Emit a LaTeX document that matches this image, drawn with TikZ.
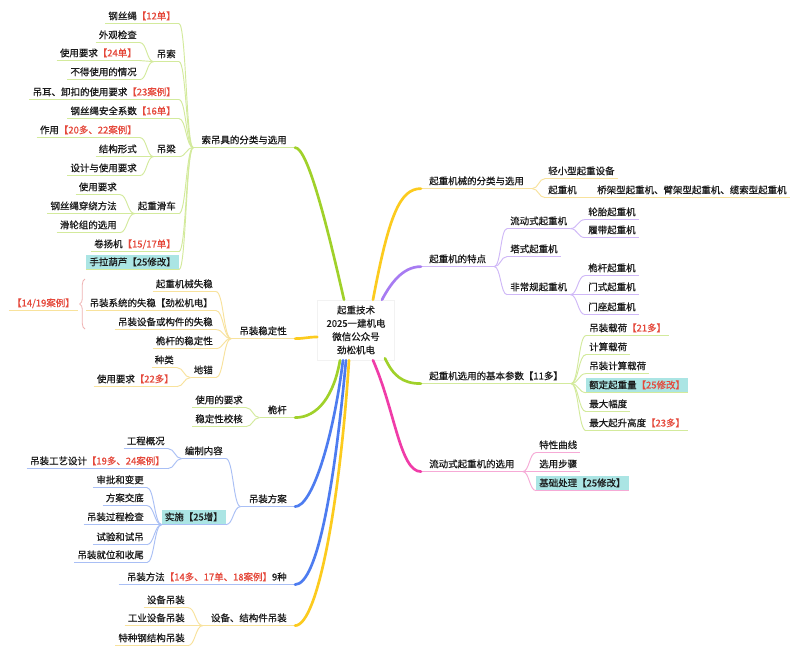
\documentclass[tikz,border=0pt]{standalone}
\usepackage{fontspec}
\setmainfont{Noto Sans CJK SC}[FakeBold=0.6]
\usepackage{xcolor}
\usepackage{tikz}
\usetikzlibrary{calc,decorations.pathreplacing}
\definecolor{Ink}{HTML}{1A1A1A}
\definecolor{Hot}{HTML}{E5483B}
\definecolor{Mark}{HTML}{ABE5E4}
\definecolor{Lime}{HTML}{A0D12A}
\definecolor{LimeL}{HTML}{D3EA9C}
\definecolor{Gold}{HTML}{FCCB1E}
\definecolor{GoldL}{HTML}{F8E29C}
\definecolor{Blue}{HTML}{4D7CF0}
\definecolor{BlueL}{HTML}{A9BFF5}
\definecolor{Vio}{HTML}{A77BF2}
\definecolor{VioL}{HTML}{CFB8F7}
\definecolor{Rose}{HTML}{F03CA8}
\definecolor{RoseL}{HTML}{F6AAD6}
\definecolor{Brace}{HTML}{EFB3B3}
\newcommand{\rd}[1]{\textcolor{Hot}{#1}}

\tikzset{
  txt/.style={font=\fontsize{7.1pt}{9pt}\selectfont, text=Ink, inner xsep=2.25pt, inner ysep=1.9pt, text height=6.2pt, text depth=1pt},
  mainnode/.style={txt, inner xsep=6pt},
  markbox/.style={fill=Mark},
  rootnode/.style={font=\fontsize{7.1pt}{10pt}\selectfont, text=Ink, align=center, fill=white, draw=black!5, minimum width=57.75pt, minimum height=45pt},
  ul/.style={line width=0.7pt},
  link/.style={line width=0.7pt, to path={.. controls ($(\tikztostart)!0.5!(\tikztotarget|-\tikztostart)$) and ($(\tikztotarget)!0.5!(\tikztostart|-\tikztotarget)$) .. (\tikztotarget)}},
  branch/.style={line width=2pt, line cap=round}
}

\begin{document}
\begin{tikzpicture}[x=0.75pt, y=-0.75pt]
  \fill[white] (0,0) rectangle (800,654);
  \useasboundingbox (0,0) rectangle (800,654);

  \node[rootnode] (root) at (356,330) {起重技术\\2025一建机电\\微信公众号\\劲松机电};

  % left side
  \node[mainnode, anchor=east] (sdj) at (295,140) {索吊具的分类与选用};
  \node[mainnode, anchor=east] (dzwdx) at (295,331) {吊装稳定性};
  \node[mainnode, anchor=east] (wg) at (295,410) {桅杆};
  \node[mainnode, anchor=east] (dzfa) at (295,499) {吊装方案};
  \node[mainnode, anchor=east] (dzff) at (295,577) {吊装方法\rd{【14多、17单、18案例】}9种};
  \node[mainnode, anchor=east] (sbjg) at (295,618) {设备、结构件吊装};

  \node[txt, anchor=east] (gss) at (179,16) {钢丝绳\rd{【12单】}};
  \node[txt, anchor=east] (dsu) at (179,54) {吊索};
  \node[txt, anchor=east] (derk) at (179,92) {吊耳、卸扣的使用要求\rd{【23案例】}};
  \node[txt, anchor=east] (gssaq) at (179,111) {钢丝绳安全系数\rd{【16单】}};
  \node[txt, anchor=east] (dliang) at (179,149) {吊梁};
  \node[txt, anchor=east] (qzhc) at (179,206) {起重滑车};
  \node[txt, anchor=east] (jyj) at (179,244) {卷扬机\rd{【15/17单】}};
  \node[txt, markbox, anchor=east] (slhl) at (179,262) {手拉葫芦【25修改】};

  \node[txt, anchor=east] (wgjc) at (140,35) {外观检查};
  \node[txt, anchor=east] (syyq1) at (140,53) {使用要求\rd{【24单】}};
  \node[txt, anchor=east] (bdsy) at (140,72) {不得使用的情况};
  \node[txt, anchor=east] (zuoyong) at (140,130) {作用\rd{【20多、22案例】}};
  \node[txt, anchor=east] (jgxs) at (140,149) {结构形式};
  \node[txt, anchor=east] (sjsy) at (140,168) {设计与使用要求};
  \node[txt, anchor=east] (syyq2) at (120,187) {使用要求};
  \node[txt, anchor=east] (gscr) at (120,206) {钢丝绳穿绕方法};
  \node[txt, anchor=east] (hlz) at (120,225) {滑轮组的选用};

  \node[txt, anchor=east] (qzjx) at (216,284) {起重机械失稳};
  \node[txt, anchor=east] (dzxt) at (216,303) {吊装系统的失稳【劲松机电】};
  \node[txt, anchor=east] (dzsb) at (216,322) {吊装设备或构件的失稳};
  \node[txt, anchor=east] (wgwd) at (216,341) {桅杆的稳定性};
  \node[txt, anchor=east] (diman) at (216,370) {地锚};
  \node[txt, anchor=east] (zhonglei) at (177,360) {种类};
  \node[txt, anchor=east] (syyq3) at (177,379) {使用要求\rd{【22多】}};
  \node[txt, anchor=east] (anli) at (78,303) {\rd{【14/19案例】}};

  \node[txt, anchor=east] (sydyq) at (246,400) {使用的要求};
  \node[txt, anchor=east] (wdxjh) at (246,419) {稳定性校核};

  \node[txt, anchor=east] (bznr) at (226,451) {编制内容};
  \node[txt, markbox, anchor=east] (shishi) at (226,517) {实施【25增】};
  \node[txt, anchor=east] (gcgk) at (168,441) {工程概况};
  \node[txt, anchor=east] (dzgy) at (168,461) {吊装工艺设计\rd{【19多、24案例】}};
  \node[txt, anchor=east] (spbg) at (147,480) {审批和变更};
  \node[txt, anchor=east] (fajd) at (147,498) {方案交底};
  \node[txt, anchor=east] (dzgc) at (147,517) {吊装过程检查};
  \node[txt, anchor=east] (syhs) at (147,537) {试验和试吊};
  \node[txt, anchor=east] (dzjw) at (147,555) {吊装就位和收尾};

  \node[txt, anchor=east] (sbdz) at (188,600) {设备吊装};
  \node[txt, anchor=east] (gysb) at (188,618) {工业设备吊装};
  \node[txt, anchor=east] (tzgj) at (188,638) {特种钢结构吊装};

  % right side
  \node[mainnode, anchor=west] (qzjxfl) at (421,181) {起重机械的分类与选用};
  \node[mainnode, anchor=west] (tedian) at (421,259) {起重机的特点};
  \node[mainnode, anchor=west] (jbcs) at (421,376) {起重机选用的基本参数【11多】};
  \node[mainnode, anchor=west] (ldxy) at (421,464) {流动式起重机的选用};

  \node[txt, anchor=west] (qxx) at (545,171) {轻小型起重设备};
  \node[txt, anchor=west] (qzj) at (545,190) {起重机};
  \node[txt, anchor=west] (qjx) at (594,190) {桥架型起重机、臂架型起重机、缆索型起重机};

  \node[txt, anchor=west] (ldqzj) at (507,221) {流动式起重机};
  \node[txt, anchor=west] (tsqzj) at (507,249) {塔式起重机};
  \node[txt, anchor=west] (fcg) at (507,287) {非常规起重机};
  \node[txt, anchor=west] (ltqzj) at (585,212) {轮胎起重机};
  \node[txt, anchor=west] (lddqzj) at (585,230) {履带起重机};
  \node[txt, anchor=west] (wgqzj) at (585,268) {桅杆起重机};
  \node[txt, anchor=west] (msqzj) at (585,287) {门式起重机};
  \node[txt, anchor=west] (mzqzj) at (585,307) {门座起重机};

  \node[txt, anchor=west] (dzzh) at (586,328) {吊装载荷\rd{【21多】}};
  \node[txt, anchor=west] (jszh) at (586,347) {计算载荷};
  \node[txt, anchor=west] (dzjszh) at (586,366) {吊装计算载荷};
  \node[txt, markbox, anchor=west] (edqzl) at (586,385) {额定起重量\rd{【25修改】}};
  \node[txt, anchor=west] (zdfd) at (586,404) {最大幅度};
  \node[txt, anchor=west] (zdqs) at (586,423) {最大起升高度\rd{【23多】}};

  \node[txt, anchor=west] (txqx) at (536,445) {特性曲线};
  \node[txt, anchor=west] (xybz) at (536,464) {选用步骤};
  \node[txt, markbox, anchor=west] (jccl) at (536,483) {基础处理【25修改】};

  % underlines
  \foreach \n in {sdj,gss,dsu,wgjc,syyq1,bdsy,derk,gssaq,dliang,zuoyong,jgxs,sjsy,qzhc,syyq2,gscr,hlz,jyj,slhl,wg,sydyq,wdxjh,jbcs,dzzh,jszh,dzjszh,edqzl,zdfd,zdqs}
    \draw[ul, LimeL] (\n.south west) -- (\n.south east);
  \foreach \n in {dzwdx,qzjx,dzxt,dzsb,wgwd,diman,zhonglei,syyq3,anli,sbjg,sbdz,gysb,tzgj,qzjxfl,qxx,qzj,qjx}
    \draw[ul, GoldL] (\n.south west) -- (\n.south east);
  \foreach \n in {dzfa,bznr,gcgk,dzgy,shishi,spbg,fajd,dzgc,syhs,dzjw,dzff}
    \draw[ul, BlueL] (\n.south west) -- (\n.south east);
  \foreach \n in {tedian,ldqzj,tsqzj,fcg,ltqzj,lddqzj,wgqzj,msqzj,mzqzj}
    \draw[ul, VioL] (\n.south west) -- (\n.south east);
  \foreach \n in {ldxy,txqx,xybz,jccl}
    \draw[ul, RoseL] (\n.south west) -- (\n.south east);

  % thin links
  \foreach \c in {gss,dsu,derk,gssaq,dliang,qzhc,jyj,slhl}
    \draw[link, LimeL] (\c.south east) to (sdj.south west);
  \foreach \c in {wgjc,syyq1,bdsy}
    \draw[link, LimeL] (\c.south east) to (dsu.south west);
  \foreach \c in {zuoyong,jgxs,sjsy}
    \draw[link, LimeL] (\c.south east) to (dliang.south west);
  \foreach \c in {syyq2,gscr,hlz}
    \draw[link, LimeL] (\c.south east) to (qzhc.south west);
  \foreach \c in {qzjx,dzxt,dzsb,wgwd,diman}
    \draw[link, GoldL] (\c.south east) to (dzwdx.south west);
  \foreach \c in {zhonglei,syyq3}
    \draw[link, GoldL] (\c.south east) to (diman.south west);
  \foreach \c in {sydyq,wdxjh}
    \draw[link, LimeL] (\c.south east) to (wg.south west);
  \foreach \c in {bznr,shishi}
    \draw[link, BlueL] (\c.south east) to (dzfa.south west);
  \foreach \c in {gcgk,dzgy}
    \draw[link, BlueL] (\c.south east) to (bznr.south west);
  \foreach \c in {spbg,fajd,dzgc,syhs,dzjw}
    \draw[link, BlueL] (\c.south east) to (shishi.south west);
  \foreach \c in {sbdz,gysb,tzgj}
    \draw[link, GoldL] (\c.south east) to (sbjg.south west);

  \foreach \c in {qxx,qzj}
    \draw[link, GoldL] (qzjxfl.south east) to (\c.south west);
  \draw[ul, GoldL] (qzj.south east) -- (qjx.south west);
  \foreach \c in {ldqzj,tsqzj,fcg}
    \draw[link, VioL] (tedian.south east) to (\c.south west);
  \foreach \c in {ltqzj,lddqzj}
    \draw[link, VioL] (ldqzj.south east) to (\c.south west);
  \foreach \c in {wgqzj,msqzj,mzqzj}
    \draw[link, VioL] (fcg.south east) to (\c.south west);
  \foreach \c in {dzzh,jszh,dzjszh,edqzl,zdfd,zdqs}
    \draw[link, LimeL] (jbcs.south east) to (\c.south west);
  \foreach \c in {txqx,xybz,jccl}
    \draw[link, RoseL] (ldxy.south east) to (\c.south west);

  % brace
  \coordinate (bt) at (85,279);
  \coordinate (bb) at (85,329);
  \draw[Brace, line width=0.6pt, decorate, decoration={brace, amplitude=4pt}] (bb) -- (bt);

  % main branches
  \draw[branch, Lime] ($(root.north)+(-12,0)$) .. controls +(-16,-70) and +(13,0) .. (sdj.south east);
  \draw[branch, Gold] ($(root.west)+(0,7)$) .. controls +(-10,0) and +(10,0) .. (dzwdx.south east);
  \draw[branch, Lime] ($(root.south)+(-16,0)$) .. controls +(-6,35) and +(23,0) .. (wg.south east);
  \draw[branch, Blue] ($(root.south)+(-13,0)$) .. controls +(-10,80) and +(17,0) .. (dzfa.south east);
  \draw[branch, Blue] ($(root.south)+(-10,0)$) .. controls +(-11,120) and +(23,0) .. (dzff.south east);
  \draw[branch, Gold] ($(root.south)+(-7,0)$) .. controls +(-9,140) and +(23,0) .. (sbjg.south east);
  \draw[branch, Gold] ($(root.north)+(17,0)$) .. controls +(16,-85) and +(-21,0) .. (qzjxfl.south west);
  \draw[branch, Vio] ($(root.north)+(26,0)$) .. controls +(8,-15) and +(-19,0) .. (tedian.south west);
  \draw[branch, Lime] ($(root.south)+(29,-2)$) .. controls +(8,17) and +(-19,0) .. (jbcs.south west);
  \draw[branch, Rose] ($(root.south)+(17,0)$) .. controls +(22,50) and +(-21,0) .. (ldxy.south west);
\end{tikzpicture}
\end{document}
